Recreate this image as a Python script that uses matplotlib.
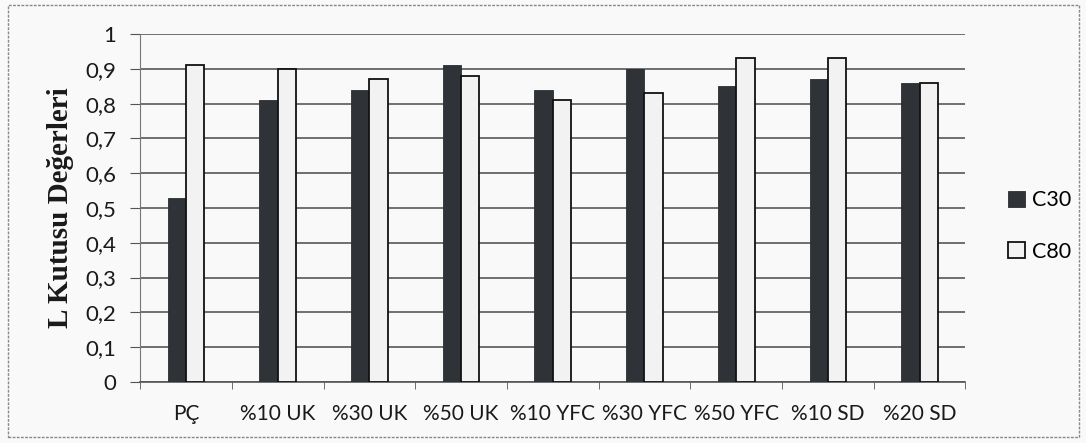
import numpy as np
import matplotlib.pyplot as plt
from matplotlib.patches import Rectangle

categories = ["PÇ", "%10 UK", "%30 UK", "%50 UK", "%10 YFC",
              "%30 YFC", "%50 YFC", "%10 SD", "%20 SD"]
c30 = [0.53, 0.81, 0.84, 0.91, 0.84, 0.90, 0.85, 0.87, 0.86]
c80 = [0.91, 0.90, 0.87, 0.88, 0.81, 0.83, 0.93, 0.93, 0.86]
yticks = [0, 0.1, 0.2, 0.3, 0.4, 0.5, 0.6, 0.7, 0.8, 0.9, 1]

bg = "#f9f9f9"
fig = plt.figure(figsize=(10.86, 4.43), dpi=100, facecolor=bg)
ax = fig.add_axes([0.129, 0.138, 0.760, 0.785], facecolor=bg)

x = np.arange(len(categories))
w = 0.2
ax.bar(x - w / 2, c30, w, color="#2f3337", edgecolor="#2a2d30", linewidth=0.6,
       label="C30", zorder=3)
ax.bar(x + w / 2, c80, w, color="#f2f2f2", edgecolor="#111111", linewidth=1.3,
       label="C80", zorder=3)

ax.set_xlim(-0.5, len(categories) - 0.5)
ax.set_ylim(0, 1)
ax.set_yticks(yticks)
ax.set_yticklabels([f"{v:g}".replace(".", ",") for v in yticks])
ax.set_xticks(x)
ax.set_xticklabels(categories)
ax.set_xticks(np.arange(len(categories) + 1) - 0.5, minor=True)
ax.tick_params(axis="x", which="major", length=0, pad=16)
ax.tick_params(axis="x", which="minor", length=5, color="#555555", direction="out")
ax.tick_params(axis="y", length=7, color="#555555", direction="out", pad=10)
for lab in ax.get_xticklabels():
    lab.set_fontfamily("Lato")
    lab.set_fontsize(15)
    lab.set_color("#1a1a1a")
for lab in ax.get_yticklabels():
    lab.set_fontfamily("Lato")
    lab.set_fontsize(16)
    lab.set_color("#1a1a1a")

ax.yaxis.grid(True, color="#4a4a4a", linewidth=1.1, zorder=0)
for s in ["top", "right"]:
    ax.spines[s].set_visible(False)
ax.spines["left"].set_color("#777777")
ax.spines["bottom"].set_color("#555555")
ax.spines["bottom"].set_linewidth(1.2)

ax.set_ylabel("L Kutusu Değerleri", family="Liberation Serif", fontweight="bold",
              fontsize=21, labelpad=8, color="#1a1a1a")

handles, labels = ax.get_legend_handles_labels()
fig.legend(handles, labels, loc="center left", bbox_to_anchor=(0.91, 0.49),
           frameon=False, prop={"family": "Lato", "size": 15.5}, handlelength=0.8,
           handleheight=0.8, handletextpad=0.35, labelspacing=1.45)

# dashed outer frame
fig.patches.append(Rectangle((0.007, 0.013), 0.987, 0.975, transform=fig.transFigure,
                             fill=False, edgecolor="#888888", linewidth=1.0,
                             linestyle=(0, (2, 1))))

fig.savefig("out.png", dpi=100, facecolor=bg)
